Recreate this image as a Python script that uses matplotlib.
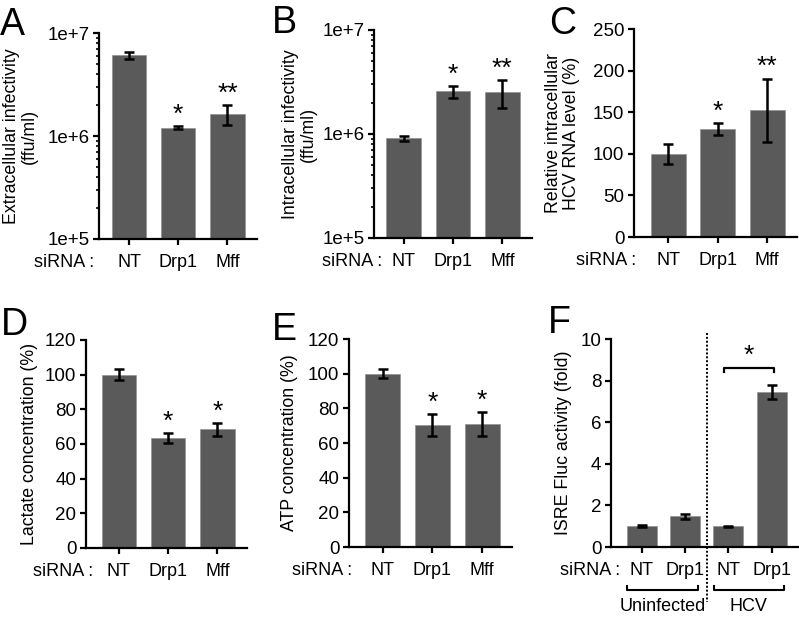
import matplotlib
matplotlib.use("Agg")
import matplotlib.pyplot as plt
import matplotlib.transforms as mtransforms
from matplotlib.ticker import LogLocator, NullFormatter, FixedLocator
import numpy as np

plt.rcParams['font.family'] = ['Liberation Sans', 'DejaVu Sans']

# ---------------- data ----------------
groups3 = ["NT", "Drp1", "Mff"]

extra_vals = [6.1e6, 1.2e6, 1.65e6]
extra_err = [0.5e6, 0.04e6, 0.37e6]
extra_stars = ["", "*", "**"]

intra_vals = [0.91e6, 2.57e6, 2.53e6]
intra_err = [0.05e6, 0.33e6, 0.75e6]
intra_stars = ["", "*", "**"]

rna_vals = [100, 130, 152.5]
rna_err = [12, 7, 38]
rna_stars = ["", "*", "**"]

lact_vals = [100, 63.5, 68.5]
lact_err = [3, 3, 3.7]
lact_stars = ["", "*", "*"]

atp_vals = [100, 70.5, 71]
atp_err = [2.5, 6.5, 7]
atp_stars = ["", "*", "*"]

isre_labels = ["NT", "Drp1", "NT", "Drp1"]
isre_vals = [1.0, 1.47, 1.0, 7.45]
isre_err = [0.06, 0.12, 0.03, 0.35]
isre_groups = ["Uninfected", "HCV"]

BAR = "#5a5a5a"
W, H = 799, 617
fig = plt.figure(figsize=(W / 100, H / 100), dpi=100)


def add_ax(l, r, t, b):
    return fig.add_axes([l / W, 1 - b / H, (r - l) / W, (b - t) / H])


XFS = 13
YFS = 13.5
LABFS = 12.8
LW = 1.6
TL = 4
XPAD = 7


def style(ax, labels, xlim, sirna_right_px, axis_bottom_px):
    for s in ("top", "right"):
        ax.spines[s].set_visible(False)
    for s in ("left", "bottom"):
        ax.spines[s].set_linewidth(LW)
    ax.set_xticks(range(len(labels)))
    ax.set_xticklabels(labels, fontsize=XFS)
    ax.set_xlim(*xlim)
    ax.tick_params(axis="both", which="major", length=TL, width=LW)
    ax.tick_params(axis="y", which="major", labelsize=YFS, pad=3)
    ax.tick_params(axis="x", labelsize=XFS, pad=XPAD)
    y_top = axis_bottom_px + (TL + XPAD) * 100 / 72
    fig.text(sirna_right_px / W, 1 - y_top / H, "siRNA :", ha="right", va="top",
             fontsize=XFS)


def bars(ax, vals, errs, width=0.7):
    x = np.arange(len(vals))
    ax.bar(x, vals, width=width, color=BAR, edgecolor="#8a8a8a", linewidth=0.4,
           zorder=2)
    ax.errorbar(x, vals, yerr=errs, fmt="none", ecolor="black", elinewidth=1.8,
                capsize=3.5, capthick=1.8, zorder=3)


def stars(ax, vals, errs, marks, fs=19):
    for i, (v, e, m) in enumerate(zip(vals, errs, marks)):
        if m:
            ax.annotate(m, xy=(i, v + e), xytext=(0, 3), textcoords="offset points",
                        ha="center", va="baseline", fontsize=fs)


def log_axis(ax):
    ax.set_yscale("log")
    ax.set_ylim(1e5, 1e7)
    ax.yaxis.set_major_locator(FixedLocator([1e5, 1e6, 1e7]))
    ax.set_yticklabels(["1e+5", "1e+6", "1e+7"])
    ax.yaxis.set_minor_locator(LogLocator(base=10, subs=np.arange(2, 10)))
    ax.yaxis.set_minor_formatter(NullFormatter())
    ax.tick_params(axis="y", which="minor", length=2.2, width=1.2)


def letter(x, y, s):
    fig.text(x / W, 1 - y / H, s, fontsize=27, ha="left", va="baseline")


# ---- A ----
axA = add_ax(99, 257, 33, 239)
bars(axA, extra_vals, extra_err)
log_axis(axA)
style(axA, groups3, (-0.61, 2.6), 94, 239)
stars(axA, extra_vals, extra_err, extra_stars)
axA.set_ylabel("Extracellular infectivity\n(ffu/ml)", fontsize=LABFS, linespacing=1.1)
axA.yaxis.set_label_coords(-0.385, 0.5)
letter(0, 35, "A")

# ---- B ----
axB = add_ax(374, 532, 30, 238)
bars(axB, intra_vals, intra_err)
log_axis(axB)
style(axB, groups3, (-0.6, 2.6), 382, 238)
stars(axB, intra_vals, intra_err, intra_stars)
axB.set_ylabel("Intracellular infectivity\n(ffu/ml)", fontsize=LABFS, linespacing=1.1)
axB.yaxis.set_label_coords(-0.36, 0.5)
letter(272, 33, "B")

# ---- C ----
axC = add_ax(634, 797, 29, 237)
bars(axC, rna_vals, rna_err)
axC.set_ylim(0, 250)
axC.set_yticks([0, 50, 100, 150, 200, 250])
style(axC, groups3, (-0.69, 2.6), 636, 237)
stars(axC, rna_vals, rna_err, rna_stars)
axC.set_ylabel("Relative intracellular\nHCV RNA level (%)", fontsize=LABFS, linespacing=1.1)
axC.yaxis.set_label_coords(-0.33, 0.5)
letter(549, 34, "C")

# ---- D ----
axD = add_ax(86, 247, 340, 548)
bars(axD, lact_vals, lact_err)
axD.set_ylim(0, 120)
axD.set_yticks(range(0, 121, 20))
style(axD, groups3, (-0.67, 2.6), 93, 548)
stars(axD, lact_vals, lact_err, lact_stars)
axD.set_ylabel("Lactate concentration (%)", fontsize=LABFS)
axD.yaxis.set_label_coords(-0.30, 0.5)
letter(1, 335, "D")

# ---- E ----
axE = add_ax(349, 512, 339, 547)
bars(axE, atp_vals, atp_err)
axE.set_ylim(0, 120)
axE.set_yticks(range(0, 121, 20))
style(axE, groups3, (-0.675, 2.6), 352, 547)
stars(axE, atp_vals, atp_err, atp_stars)
axE.set_ylabel("ATP concentration (%)", fontsize=LABFS)
axE.yaxis.set_label_coords(-0.31, 0.5)
letter(272, 340, "E")

# ---- F ----
axF = add_ax(611, 798, 339, 547)
bars(axF, isre_vals, isre_err, width=0.69)
axF.set_ylim(0, 10)
axF.set_yticks(range(0, 11, 2))
style(axF, isre_labels, (-0.71, 3.61), 620, 547)
axF.set_ylabel("ISRE Fluc activity (fold)", fontsize=LABFS)
axF.yaxis.set_label_coords(-0.21, 0.5)
letter(548, 333, "F")

blend = mtransforms.blended_transform_factory(axF.transData, axF.transAxes)
# dotted separator
axF.plot([1.5, 1.5], [1.03, -0.265], transform=blend, color="black", lw=1.4,
         ls=(0, (1, 1)), clip_on=False, zorder=1)
# group brackets
for (x0, x1), name in zip([(-0.34, 1.31), (1.66, 3.29)], isre_groups):
    axF.plot([x0, x0, x1, x1], [-0.188, -0.207, -0.207, -0.188], transform=blend,
             color="black", lw=1.5, clip_on=False)
    axF.text((x0 + x1) / 2, -0.287, name, transform=blend, ha="center", va="center",
             fontsize=XFS)
# significance bracket
axF.plot([1.89, 1.89, 3.05, 3.05], [8.43, 8.59, 8.59, 8.43], color="black", lw=1.6,
         clip_on=False)
axF.text(2.47, 8.85, "*", ha="center", va="baseline", fontsize=19)

fig.savefig("out.png", dpi=100)
